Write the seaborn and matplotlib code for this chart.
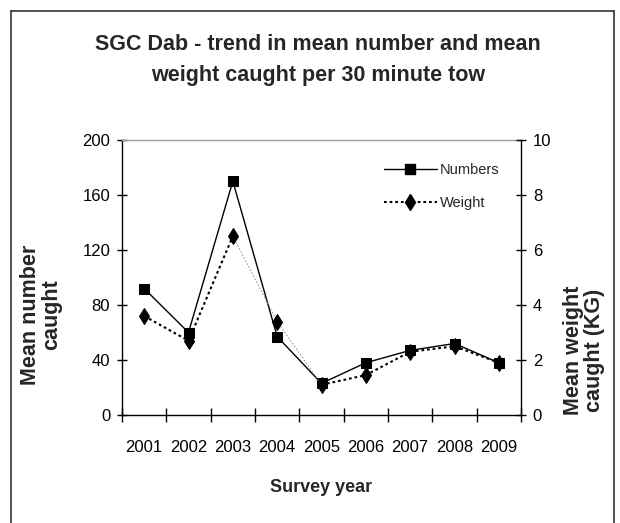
import numpy as np
import pandas as pd
import matplotlib
matplotlib.use("Agg")
import matplotlib.pyplot as plt
from matplotlib.lines import Line2D
from matplotlib.ticker import FixedLocator, NullFormatter
import seaborn as sns

# ---- data ----
years = [2001, 2002, 2003, 2004, 2005, 2006, 2007, 2008, 2009]
mean_numbers = [92, 60, 170, 57, 23, 38, 47, 52, 38]
mean_weight = [3.6, 2.7, 6.5, 3.4, 1.1, 1.45, 2.3, 2.5, 1.9]
left_ticks = [0, 40, 80, 120, 160, 200]
right_ticks = [0, 2, 4, 6, 8, 10]
title = "SGC Dab - trend in mean number and mean\nweight caught per 30 minute tow"

df = pd.DataFrame({"year": years, "numbers": mean_numbers, "weight": mean_weight})

sns.set_style("white")
plt.rcParams["font.family"] = ["Liberation Sans", "DejaVu Sans"]

fig = plt.figure(figsize=(6.2, 5.23), dpi=100)
ax = fig.add_axes([122 / 620, 1 - 415 / 523, 399 / 620, 275 / 523])
ax2 = ax.twinx()

# Numbers (left axis)
sns.lineplot(data=df, x="year", y="numbers", ax=ax, color="black", lw=1.0,
             marker="s", markersize=7.2, markeredgecolor="black",
             markerfacecolor="black", label="Numbers", legend=False)

# Weight (right axis): thin grey dotted base, bold dotted where the reference is bold
sns.lineplot(data=df.iloc[2:5], x="year", y="weight", ax=ax2, color="#888888",
             lw=0.7, linestyle=(0, (1.5, 2)), legend=False)
for part in (df.iloc[0:3], df.iloc[4:9]):
    sns.lineplot(data=part, x="year", y="weight", ax=ax2, color="black", lw=1.5,
                 linestyle=(0, (1.3, 1.4)), legend=False)
sns.lineplot(data=df, x="year", y="weight", ax=ax2, color="black", lw=0,
             marker="d", markersize=8, markeredgecolor="black",
             markerfacecolor="black", legend=False)

# axes limits
ax.set_xlim(years[0] - 0.5, years[-1] + 0.5)
ax.set_ylim(left_ticks[0], left_ticks[-1])
ax2.set_ylim(right_ticks[0], right_ticks[-1])

# ticks
ax.set_xticks(years)
ax.set_xticklabels([str(y) for y in years])
ax.xaxis.set_minor_locator(FixedLocator(np.arange(years[0] - 0.5, years[-1] + 1, 1.0)))
ax.xaxis.set_minor_formatter(NullFormatter())
ax.tick_params(axis="x", which="major", length=0, pad=18, labelsize=12, colors="black")
ax.tick_params(axis="x", which="minor", direction="inout", length=10, width=1, color="black", bottom=True)
ax.set_yticks(left_ticks)
ax.tick_params(axis="y", direction="inout", length=7, width=1, pad=5, labelsize=12,
               colors="black", left=True)
ax2.set_yticks(right_ticks)
ax2.tick_params(axis="y", direction="inout", length=7, width=1, pad=5, labelsize=12,
                colors="black", right=True)

# spines
for s in ("left", "bottom"):
    ax.spines[s].set_color("black")
    ax.spines[s].set_linewidth(1.0)
ax.spines["top"].set_color("#9a9a9a")
ax.spines["top"].set_linewidth(1.0)
ax.spines["right"].set_visible(False)
for s in ("left", "bottom", "top"):
    ax2.spines[s].set_visible(False)
ax2.spines["right"].set_visible(True)
ax2.spines["right"].set_color("black")
ax2.spines["right"].set_linewidth(1.0)

# labels
ax.set_xlabel("Survey year", fontsize=13, fontweight="bold")
ax.xaxis.set_label_coords(0.5, -0.233)
ax.set_ylabel("Mean number\ncaught", fontsize=15.5, fontweight="bold", linespacing=1.0)
ax.yaxis.set_label_coords(-0.150, 0.364)
ax2.set_ylabel("Mean weight\ncaught (KG)", fontsize=15.5, fontweight="bold", linespacing=1.0)
ax2.yaxis.set_label_coords(1.105, 0.2345)

# legend
h_num = Line2D([], [], color="black", lw=1.0, marker="s", markersize=7.2)
h_wt = Line2D([], [], color="black", lw=1.5, linestyle=(0, (1.3, 1.4)), marker="d", markersize=8)
ax2.legend([h_num, h_wt], ["Numbers", "Weight"], loc="upper left",
           bbox_to_anchor=(0.657, 0.915), frameon=False, fontsize=10.5,
           handlelength=3.6, handletextpad=0.2, labelspacing=1.3,
           borderpad=0, borderaxespad=0)

# title
fig.text(318 / 620, 1 - 60 / 523, title, ha="center", va="center",
         fontsize=15.5, fontweight="bold", linespacing=1.65)

# outer border (bottom edge runs past the image)
for xs, ys in (([11, 11], [560, 11]), ([11, 614], [11, 11]), ([614, 614], [11, 560])):
    fig.add_artist(Line2D([x / 620 for x in xs], [1 - y / 523 for y in ys],
                          transform=fig.transFigure, color="#333333", lw=1.2,
                          clip_on=False))

fig.savefig("out.png", dpi=100)
